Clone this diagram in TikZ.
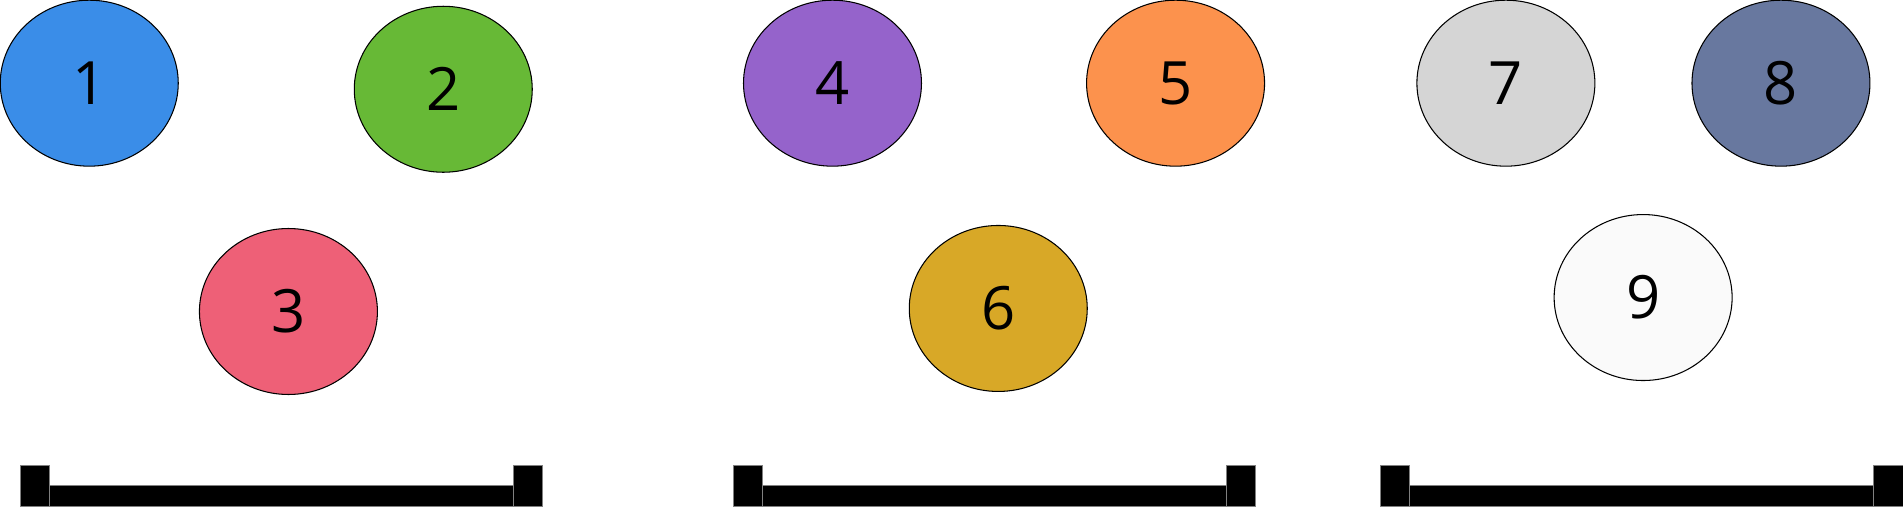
\documentclass[tikz,border=0pt]{standalone}
\usepackage{fontspec}
\setmainfont{Open Sans}
\usepackage{tikz}
\usetikzlibrary{shapes.geometric}
\definecolor{ballblue}{HTML}{3A8DE8}
\definecolor{ballgreen}{HTML}{67B936}
\definecolor{ballpink}{HTML}{EE6077}
\definecolor{ballpurple}{HTML}{9563CB}
\definecolor{ballorange}{HTML}{FC924D}
\definecolor{ballgold}{HTML}{D8A827}
\definecolor{ballgrey}{HTML}{D5D5D5}
\definecolor{ballslate}{HTML}{68789F}
\definecolor{ballwhite}{HTML}{FAFAFA}
\tikzset{%
    ball/.style={%
        draw, shape=ellipse, inner sep=0pt, line width=0.6pt,
        minimum width=3.56cm, minimum height=3.32cm,
        font=\fontsize{34}{40}\selectfont
    },
    bar/.style={%
        fill=black, draw=gray, line width=0.6pt
    }
}

\begin{document}
\begin{tikzpicture}[x=0.024288cm, y=-0.024288cm]
    \useasboundingbox (0,0) rectangle (1567,417.5);

    \node[ball, fill=ballblue] (one) at (73.5,68.5) {1};
    \node[ball, fill=ballgreen] (two) at (365,73.5) {2};
    \node[ball, fill=ballpink] (three) at (237.5,256.5) {3};
    \node[ball, fill=ballpurple] (four) at (685.5,68.5) {4};
    \node[ball, fill=ballorange] (five) at (968,68.5) {5};
    \node[ball, fill=ballgold] (six) at (822,254) {6};
    \node[ball, fill=ballgrey] (seven) at (1240,68.5) {7};
    \node[ball, fill=ballslate] (eight) at (1466.5,68.5) {8};
    \node[ball, fill=ballwhite] (nine) at (1353,245) {9};

    \draw[bar]
        (17,383) rectangle (41,417)
        (41,400) rectangle (423,417)
        (423,383) rectangle (447,417);
    \draw[bar]
        (604,383) rectangle (628,417)
        (628,400) rectangle (1010,417)
        (1010,383) rectangle (1034,417);
    \draw[bar]
        (1137,383) rectangle (1161,417)
        (1161,400) rectangle (1543,417)
        (1543,383) rectangle (1567,417);
\end{tikzpicture}
\end{document}
